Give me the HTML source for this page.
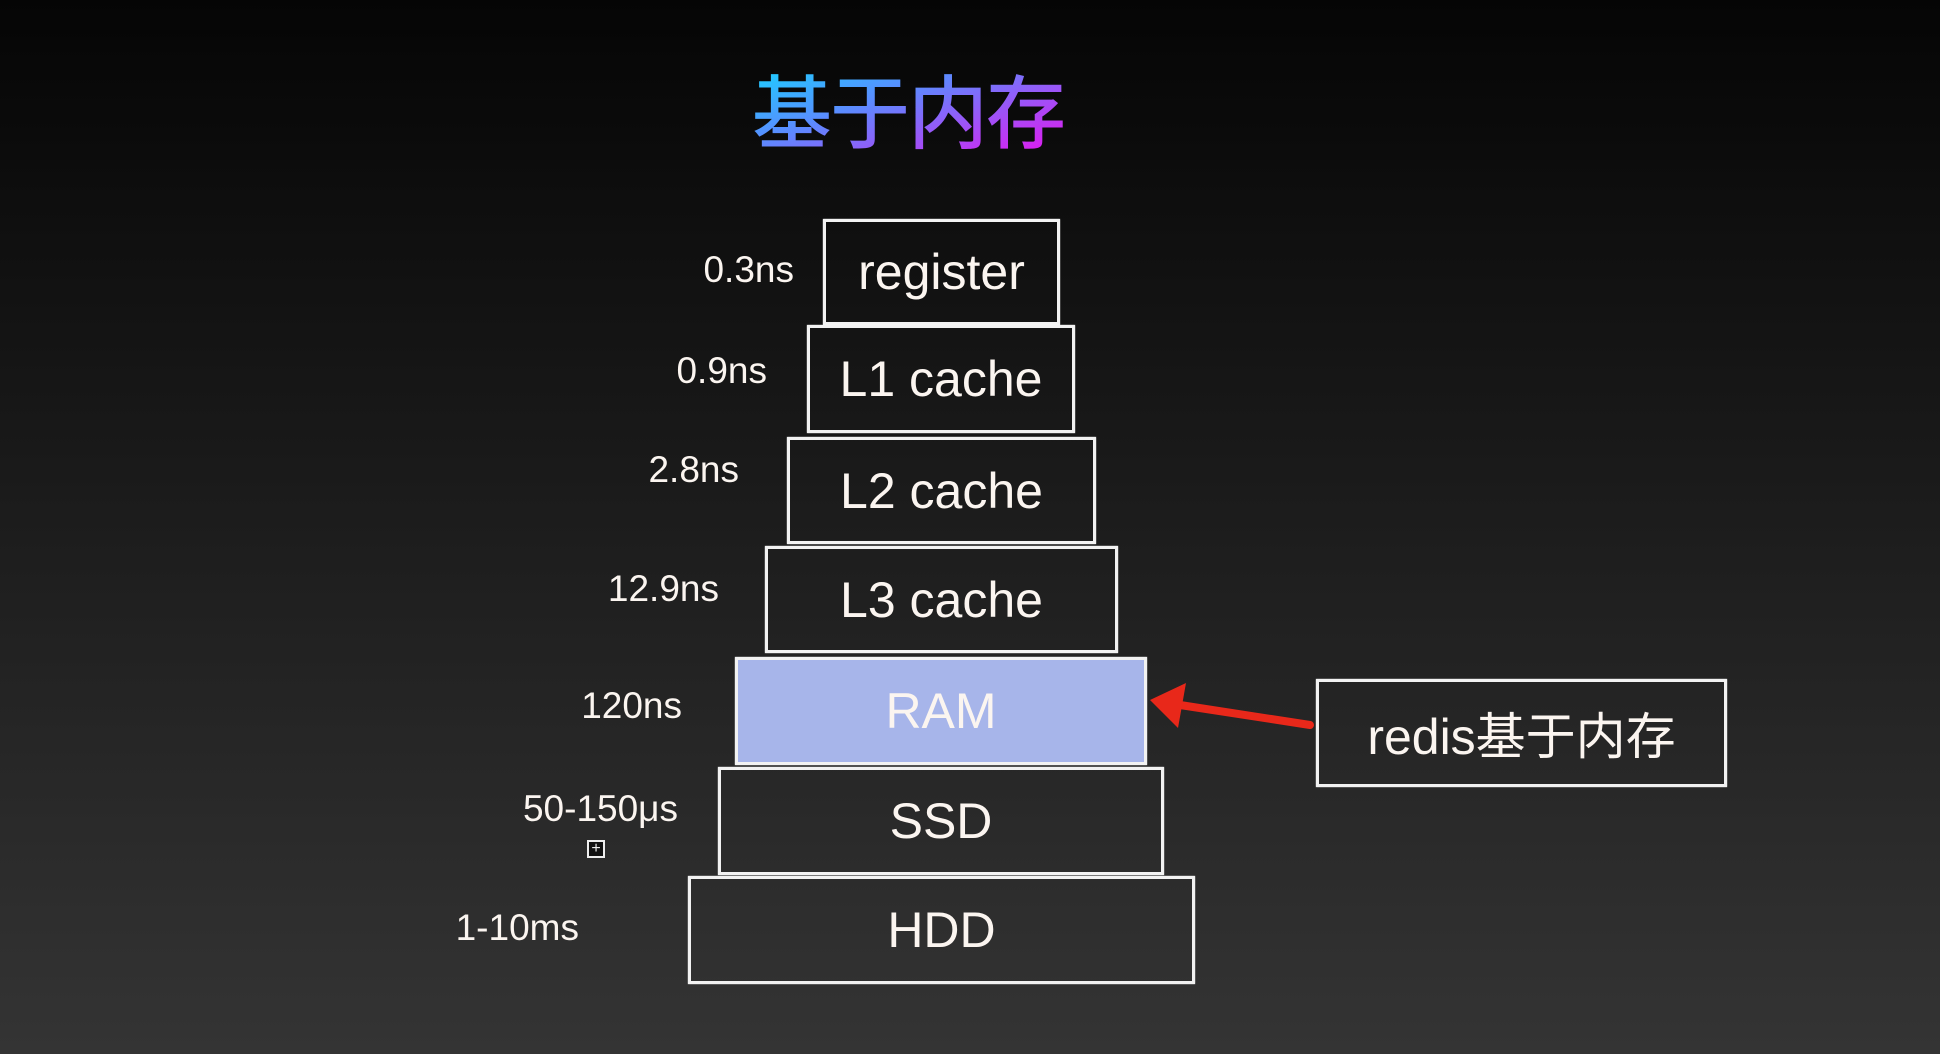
<!DOCTYPE html>
<html><head><meta charset="utf-8"><style>
html,body{margin:0;padding:0}
body{width:1940px;height:1054px;overflow:hidden;position:relative;background:linear-gradient(#050505,#343434);font-family:"Liberation Sans","Noto Sans CJK SC",sans-serif;color:#fbf5f0}
.t{position:absolute;left:752px;top:58px;font-size:80px;font-weight:500;line-height:100px;background:linear-gradient(160deg,#10dcff,#5a8cff 40%,#ec10ee);-webkit-background-clip:text;background-clip:text;color:transparent;font-family:"Noto Sans CJK SC",sans-serif;letter-spacing:-2px}
.b{position:absolute;box-sizing:border-box;border:3px solid #f2f2f2;display:flex;align-items:center;justify-content:center;font-size:50px;box-shadow:0 0 1px #fff}
.l{position:absolute;font-size:37px;text-align:right;width:300px;line-height:40px}
</style></head><body>
<div class="t">基于内存</div>
<div class="b" style="left:823px;top:219px;width:237px;height:106px">register</div>
<div class="b" style="left:807px;top:325px;width:268px;height:108px">L1 cache</div>
<div class="b" style="left:787px;top:437px;width:309px;height:107px">L2 cache</div>
<div class="b" style="left:765px;top:546px;width:353px;height:107px">L3 cache</div>
<div class="b" style="left:735px;top:657px;width:412px;height:108px;background:#a7b5ea">RAM</div>
<div class="b" style="left:718px;top:767px;width:446px;height:108px">SSD</div>
<div class="b" style="left:688px;top:876px;width:507px;height:108px">HDD</div>
<div class="b" style="left:1316px;top:679px;width:411px;height:108px;font-size:50px">redis基于内存</div>
<div class="l" style="left:494px;top:250px">0.3ns</div>
<div class="l" style="left:467px;top:351px">0.9ns</div>
<div class="l" style="left:439px;top:450px">2.8ns</div>
<div class="l" style="left:419px;top:569px">12.9ns</div>
<div class="l" style="left:382px;top:686px">120ns</div>
<div class="l" style="left:378px;top:789px">50-150μs</div>
<div class="l" style="left:279px;top:908px">1-10ms</div>
<div style="position:absolute;left:587px;top:840px;width:18px;height:18px;border:2px solid #eee;background:#111;box-sizing:border-box;color:#eee;font-size:16px;line-height:14px;text-align:center">+</div>
<svg style="position:absolute;left:0;top:0" width="1940" height="1054">
<line x1="1310" y1="725" x2="1180" y2="705" stroke="#e8281a" stroke-width="8" stroke-linecap="round"/>
<polygon points="1150,700 1186,683 1178,728" fill="#e8281a"/>
</svg>
</body></html>
